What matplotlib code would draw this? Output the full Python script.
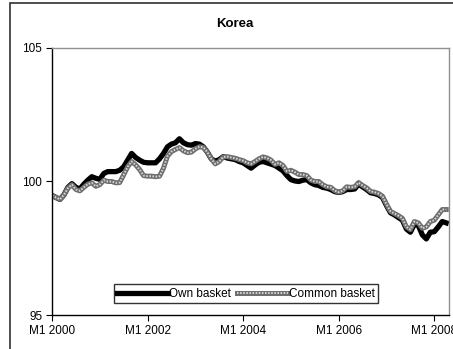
import numpy as np
import matplotlib
matplotlib.use('Agg')
from matplotlib import pyplot as plt
from matplotlib.patches import Rectangle

plt.rcParams['font.family'] = ['Liberation Sans', 'DejaVu Sans']

# Monthly index values, Jan 2000 .. Apr 2008 (month 0 = M1 2000)
own_basket = [
    99.48, 99.40, 99.33, 99.50, 99.78, 99.92, 99.78, 99.72, 99.90, 100.05,
    100.18, 100.12, 100.08, 100.30, 100.37, 100.37, 100.37, 100.42, 100.55, 100.80,
    101.05, 100.90, 100.80, 100.72, 100.70, 100.70, 100.70, 100.85, 101.05, 101.30,
    101.40, 101.45, 101.60, 101.45, 101.38, 101.36, 101.42, 101.40, 101.30, 101.10,
    100.85, 100.76, 100.82, 100.93, 100.88, 100.85, 100.82, 100.75, 100.70, 100.60,
    100.50, 100.62, 100.72, 100.75, 100.70, 100.65, 100.60, 100.50, 100.40, 100.22,
    100.07, 100.02, 100.00, 100.05, 100.07, 99.95, 99.88, 99.85, 99.78, 99.75,
    99.70, 99.62, 99.59, 99.62, 99.70, 99.70, 99.72, 99.90, 99.80, 99.70,
    99.58, 99.55, 99.50, 99.40, 99.10, 98.83, 98.75, 98.65, 98.55, 98.22,
    98.10, 98.40, 98.35, 98.00, 97.85, 98.10, 98.12, 98.30, 98.50, 98.45,
]
common_basket = [
    99.48, 99.40, 99.33, 99.50, 99.75, 99.88, 99.70, 99.65, 99.78, 99.90,
    99.95, 99.82, 99.88, 100.05, 100.00, 100.00, 99.95, 99.96, 100.25, 100.55,
    100.75, 100.62, 100.45, 100.22, 100.20, 100.20, 100.18, 100.20, 100.50, 100.95,
    101.12, 101.20, 101.27, 101.15, 101.08, 101.10, 101.22, 101.30, 101.28, 101.10,
    100.85, 100.66, 100.75, 100.92, 100.93, 100.90, 100.87, 100.82, 100.78, 100.70,
    100.66, 100.75, 100.85, 100.92, 100.88, 100.80, 100.64, 100.70, 100.60, 100.38,
    100.42, 100.35, 100.26, 100.26, 100.22, 100.05, 100.00, 100.00, 99.88, 99.80,
    99.78, 99.66, 99.60, 99.65, 99.80, 99.78, 99.80, 99.96, 99.85, 99.76,
    99.63, 99.60, 99.55, 99.45, 99.15, 98.88, 98.80, 98.72, 98.62, 98.30,
    98.20, 98.50, 98.45, 98.25, 98.30, 98.50, 98.55, 98.75, 98.95, 98.95,
]
tick_months = [0, 24, 48, 72, 96]
tick_labels = ['M1 2000', 'M1 2002', 'M1 2004', 'M1 2006', 'M1 2008']

months = np.arange(len(own_basket))

fig = plt.figure(figsize=(4.53, 3.49), dpi=100)
ax = fig.add_axes([0.1148, 0.0974, 0.8764, 0.7651])

# chart frame, runs off the right and bottom edge
fig.patches.append(Rectangle((10 / 453, -0.2), 1.2, 1.2 - 3 / 349 + 0.0,
                             transform=fig.transFigure, fill=False,
                             edgecolor='#303030', linewidth=1.2))

ax.plot(months, own_basket, color='black', linewidth=3.8,
        solid_joinstyle='round', label='Own basket')
# hatched grey line: dark body with light dots on top
ax.plot(months, common_basket, color='#6e6e6e', linewidth=3.6,
        solid_joinstyle='round')
ax.plot(months, common_basket, color='#d8d8d8', linewidth=1.4,
        dashes=(0.8, 0.8))

ax.set_xlim(0, 99.7)
ax.set_ylim(95, 105)
ax.set_yticks([95, 100, 105])
ax.set_xticks(tick_months)
ax.set_xticklabels(tick_labels)
ax.tick_params(direction='out', length=4, width=0.8, labelsize=8.5,
               color='black', pad=3)
for s in ['left', 'bottom']:
    ax.spines[s].set_color('black')
    ax.spines[s].set_linewidth(1.0)
for s in ['top', 'right']:
    ax.spines[s].set_color('#909090')
    ax.spines[s].set_linewidth(1.0)

fig.text(0.519, 0.931, 'Korea', ha='center', va='center',
         fontsize=9.5, fontweight='bold')

# legend handles
from matplotlib.lines import Line2D
from matplotlib.legend_handler import HandlerTuple
h_own = Line2D([], [], color='black', linewidth=3.8)
h_com_a = Line2D([], [], color='#6e6e6e', linewidth=3.6)
h_com_b = Line2D([], [], color='#d8d8d8', linewidth=1.4, dashes=(0.8, 0.8))
leg = ax.legend([h_own, (h_com_a, h_com_b)], ['Own basket', 'Common basket'],
                handler_map={tuple: HandlerTuple(ndivide=1, pad=0)},
                loc='center', bbox_to_anchor=(0.489, 0.079), ncol=2,
                fontsize=8.5, handlelength=4.3, handletextpad=0.1,
                columnspacing=0.5, borderpad=0.3, frameon=True, fancybox=False)
leg.get_frame().set_edgecolor('black')
leg.get_frame().set_linewidth(1.0)

fig.savefig('out.png', dpi=100)
